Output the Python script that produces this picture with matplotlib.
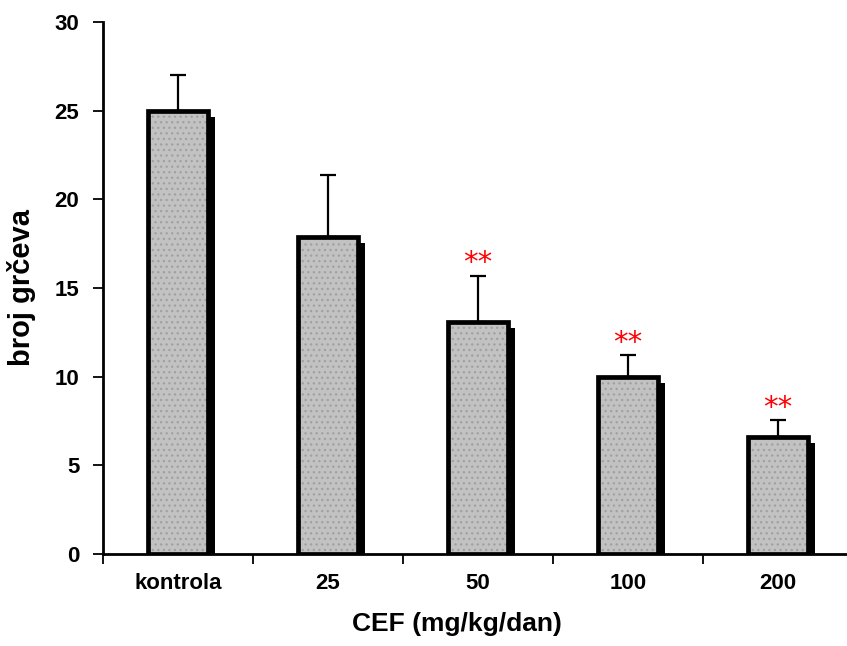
import matplotlib
matplotlib.use("Agg")
import matplotlib.pyplot as plt
import numpy as np

categories = ["kontrola", "25", "50", "100", "200"]
means = [25.0, 17.9, 13.1, 10.0, 6.6]
errors = [2.0, 3.5, 2.6, 1.2, 0.95]
signif = ["", "", "**", "**", "**"]
yticks = [0, 5, 10, 15, 20, 25, 30]

plt.rcParams['font.family'] = ['Liberation Sans', 'DejaVu Sans']
plt.rcParams['hatch.linewidth'] = 0.9

fig = plt.figure(figsize=(8.47, 6.46), dpi=100)
W, H = 847, 646
ax = fig.add_axes([103 / W, 1 - 554 / H, 750 / W, 532 / H])

x = np.arange(len(categories))
bw = 0.40
dx = 7 / 150
dy = 6 / (532 / 30)

ax.bar(x + dx, np.array(means) - dy, width=bw, color='black', zorder=1)
ax.bar(x, means, width=bw, facecolor='#c2c2c2', edgecolor='#a0a0a0',
       linewidth=0, hatch='...', zorder=2)
ax.bar(x, means, width=bw, facecolor='none', edgecolor='black',
       linewidth=3.4, zorder=3)
ax.errorbar(x, means, yerr=[np.zeros(len(means)), errors], fmt='none',
            ecolor='black', elinewidth=1.6, capsize=5.5, capthick=1.6, zorder=1.5)
for xi, m, e, s in zip(x, means, errors, signif):
    if s:
        ax.text(xi, m + e + 0.25, s, color='red', ha='center', va='baseline',
                fontsize=21, fontfamily='DejaVu Sans')

ax.set_xlim(-0.5, 4.5)
ax.set_ylim(0, 30)
ax.set_yticks(yticks)
ax.set_yticklabels([str(t) for t in yticks], fontsize=16, fontweight='bold')
ax.set_xticks(x)
ax.set_xticklabels(categories, fontsize=16, fontweight='bold')
ax.tick_params(axis='x', which='major', length=0, pad=14)
ax.set_xticks(np.arange(-0.5, 4.6, 1), minor=True)
ax.tick_params(axis='x', which='minor', length=7, width=1.3, direction='out')
ax.tick_params(axis='y', length=7, width=1.3, direction='out', pad=10)

for s in ['top', 'right']:
    ax.spines[s].set_visible(False)
for s in ['left', 'bottom']:
    ax.spines[s].set_linewidth(2)

ax.set_ylabel('broj grčeva', fontsize=21, fontweight='bold')
ax.yaxis.set_label_coords(-(103 - 36) / 750, (554 - 288) / 532)
ax.set_xlabel('CEF (mg/kg/dan)', fontsize=19, fontweight='bold')
ax.xaxis.set_label_coords((457 - 103) / 750, -(612 - 554) / 532)

fig.savefig('out.png', dpi=100)
